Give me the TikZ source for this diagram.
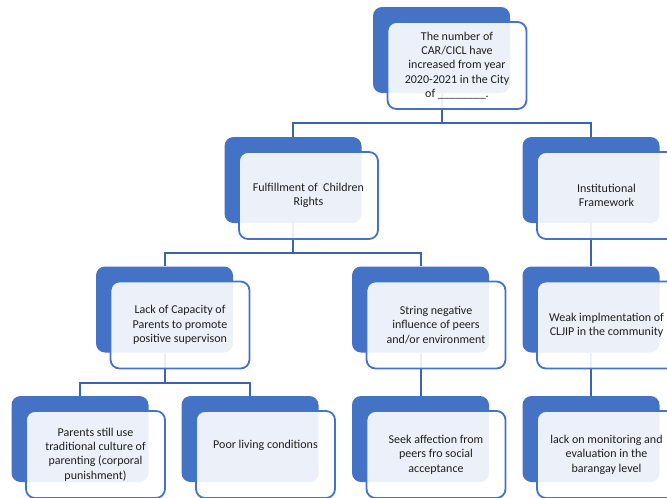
\documentclass[tikz,border=0pt]{standalone}
\usepackage{fontspec}
\setmainfont{Carlito}
\usetikzlibrary{backgrounds,calc}
\definecolor{accent}{HTML}{4472C4}
\definecolor{linkblue}{HTML}{3B64AD}
\definecolor{ink}{HTML}{1E1E1E}

\tikzset{
  backcard/.style={fill=accent, rounded corners=9pt, minimum width=137pt,
    minimum height=86pt, inner sep=0pt},
  frontcard/.style={draw=accent, line width=1.8pt, fill=white, fill opacity=0.9,
    text opacity=1, rounded corners=9pt, minimum width=139pt, minimum height=87pt,
    inner sep=0pt, align=center, text=ink,
    font=\fontsize{12}{14.4}\selectfont},
  link/.style={draw=linkblue, line width=2pt},
  offset/.style={shift={(15.5,15.5)}},
}

\begin{document}
\begin{tikzpicture}[x=1pt, y=-1pt]
\useasboundingbox (0,0) rectangle (667,498);
\clip (0,0) rectangle (667,498);

% level 1
\node[backcard] (b0) at (441.5,50) {};
\node[frontcard] (f0) at ([offset]b0) {The number of\\CAR/CICL have\\increased from year\\2020-2021 in the City\\of \_\_\_\_\_\_\_\_.};

% level 2
\node[backcard] (b1) at (293,180) {};
\node[frontcard] (f1) at ([offset]b1) {Fulfillment of \ Children\\Rights};
\node[backcard] (b2) at (591,180) {};
\node[frontcard] (f2) at ([offset]b2) {Institutional\\Framework};

% level 3
\node[backcard] (b3) at (164.5,309.5) {};
\node[frontcard] (f3) at ([offset]b3) {Lack of Capacity of\\Parents to promote\\positive supervison};
\node[backcard] (b4) at (420.5,309.5) {};
\node[frontcard] (f4) at ([offset]b4) {String negative\\influence of peers\\and/or environment};
\node[backcard] (b5) at (591,309.5) {};
\node[frontcard] (f5) at ([offset]b5) {Weak implmentation of\\CLJIP in the community};

% level 4
\node[backcard] (b6) at (80,439) {};
\node[frontcard] (f6) at ([offset]b6) {Parents still use\\traditional culture of\\parenting (corporal\\punishment)};
\node[backcard] (b7) at (250,439) {};
% trailing empty line lifts the single line of text
\node[frontcard] (f7) at ([offset]b7) {Poor living conditions\\[6pt]\mbox{}};
\node[backcard] (b8) at (420.5,439) {};
\node[frontcard] (f8) at ([offset]b8) {Seek affection from\\peers fro social\\acceptance};
\node[backcard] (b9) at (591,439) {};
\node[frontcard] (f9) at ([offset]b9) {lack on monitoring and\\evaluation in the\\barangay level};

% connectors, kept behind the cards
\begin{scope}[on background layer]
  \coordinate (j0) at ($(f0.south)!0.5!(b1.north)$);
  \coordinate (j1) at ($(f1.south)!0.5!(b3.north)$);
  \coordinate (j3) at ($(f3.south)!0.5!(b6.north)$);
  \draw[link] (b0.south) -- (b0.south |- j0) -| (b1.north);
  \draw[link] (b0.south |- j0) -| (b2.north);
  \draw[link] (b1.south) -- (b1.south |- j1) -| (b3.north);
  \draw[link] (b1.south |- j1) -| (b4.north);
  \draw[link] (b2.south) -- (b5.north);
  \draw[link] (b3.south) -- (b3.south |- j3) -| (b6.north);
  \draw[link] (b3.south |- j3) -| (b7.north);
  \draw[link] (b4.south) -- (b8.north);
  \draw[link] (b5.south) -- (b9.north);
\end{scope}
\end{tikzpicture}
\end{document}
